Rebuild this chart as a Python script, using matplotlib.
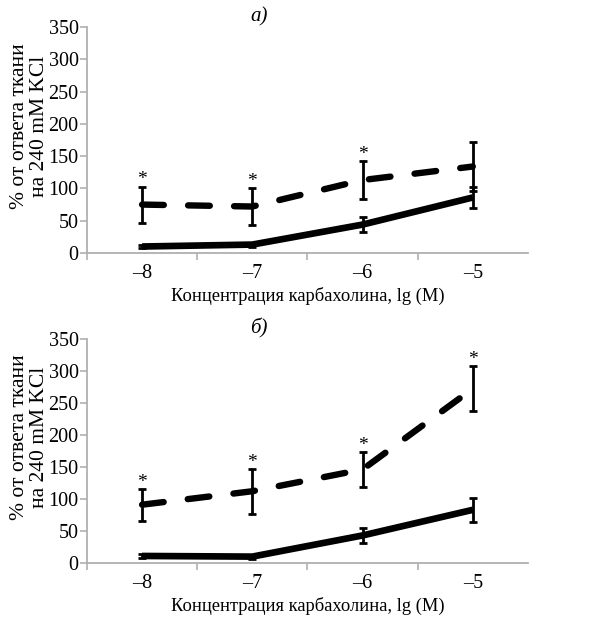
import numpy as np
import matplotlib
matplotlib.use("Agg")
import matplotlib.pyplot as plt

# ─────────────────────────────────────────────
# DATA
# ─────────────────────────────────────────────
CONC_LABELS = ["\u20138", "\u20137", "\u20136", "\u20135"]

# panel a)
A_CTRL      = [10, 13, 44, 86]
A_CTRL_ERR  = [3, 3, 12, 16]
A_TEST      = [75, 72, 113, 134]
A_TEST_ERR  = [28, 29, 30, 38]
A_STARS     = [True, True, True, False]

# panel б)
B_CTRL      = [11, 10, 43, 83]
B_CTRL_ERR  = [3, 3, 12, 19]
B_TEST      = [91, 112, 146, 272]
B_TEST_ERR  = [25, 35, 27, 35]
B_STARS     = [True, True, True, True]

PANEL_TITLES = ["\u0430)", "\u0431)"]
Y_LABEL = "% от ответа ткани\nна 240 mM KCl"
X_LABEL = "Концентрация карбахолина, lg (M)"

FONT = "Liberation Serif"
GRAY = "#b0b0b0"

plt.rcParams["font.family"] = [FONT, "DejaVu Serif"]


def draw_panel(ax, ctrl, ctrl_err, test, test_err, stars):
    x = np.arange(len(CONC_LABELS))

    ax.plot(x, ctrl, color="black", lw=4.8, solid_capstyle="butt",
            solid_joinstyle="round", zorder=2)
    ax.plot(x, test, color="black", lw=4.6, linestyle=(0, (3.4, 3.8)),
            dash_capstyle="round", zorder=2)

    ax.errorbar(x, ctrl, yerr=ctrl_err, fmt="none", ecolor="black",
                elinewidth=2.0, capsize=2.8, capthick=2.0, zorder=3)
    ax.errorbar(x, test, yerr=test_err, fmt="none", ecolor="black",
                elinewidth=2.0, capsize=2.8, capthick=2.0, zorder=3)

    for xi, yi, ei, s in zip(x, test, test_err, stars):
        if s:
            ax.annotate("*", (xi, yi + ei), xytext=(0, 1.5),
                        textcoords="offset points", ha="center",
                        va="baseline", fontsize=14, family=FONT)

    ax.set_xlim(-0.5, len(CONC_LABELS) - 0.5)
    ax.set_ylim(0, 350)
    ax.set_yticks(np.arange(0, 351, 50))
    ax.set_xticks(x)
    ax.set_xticklabels(CONC_LABELS)
    ax.set_xticks(np.arange(-0.5, len(CONC_LABELS) - 0.5, 1.0), minor=True)

    for side in ["top", "right"]:
        ax.spines[side].set_visible(False)
    for side in ["left", "bottom"]:
        ax.spines[side].set_color(GRAY)
        ax.spines[side].set_linewidth(1.3)

    ax.tick_params(axis="y", which="major", direction="out", length=5,
                   color=GRAY, width=1.2, labelsize=14.5, pad=1)
    ax.tick_params(axis="x", which="major", length=0, labelsize=14.5, pad=8)
    ax.tick_params(axis="x", which="minor", direction="out", length=5,
                   color=GRAY, width=1.2)


fig = plt.figure(figsize=(6.04, 6.17), dpi=100)

ax_a = fig.add_axes([0.144, 0.590, 0.730, 0.366])
ax_b = fig.add_axes([0.144, 0.0875, 0.730, 0.3635])

draw_panel(ax_a, A_CTRL, A_CTRL_ERR, A_TEST, A_TEST_ERR, A_STARS)
draw_panel(ax_b, B_CTRL, B_CTRL_ERR, B_TEST, B_TEST_ERR, B_STARS)

for ax, title in zip([ax_a, ax_b], PANEL_TITLES):
    ax.set_xlabel(X_LABEL, fontsize=13.3, labelpad=3)
    ax.text(-0.131, 0.56, Y_LABEL, transform=ax.transAxes, rotation=90,
            ha="center", va="center", fontsize=15.5, linespacing=1.05,
            multialignment="center")
    ax.text(0.39, 1.045, title, transform=ax.transAxes, ha="center",
            va="center", fontsize=15, style="italic")

fig.savefig("out.png", dpi=100)
